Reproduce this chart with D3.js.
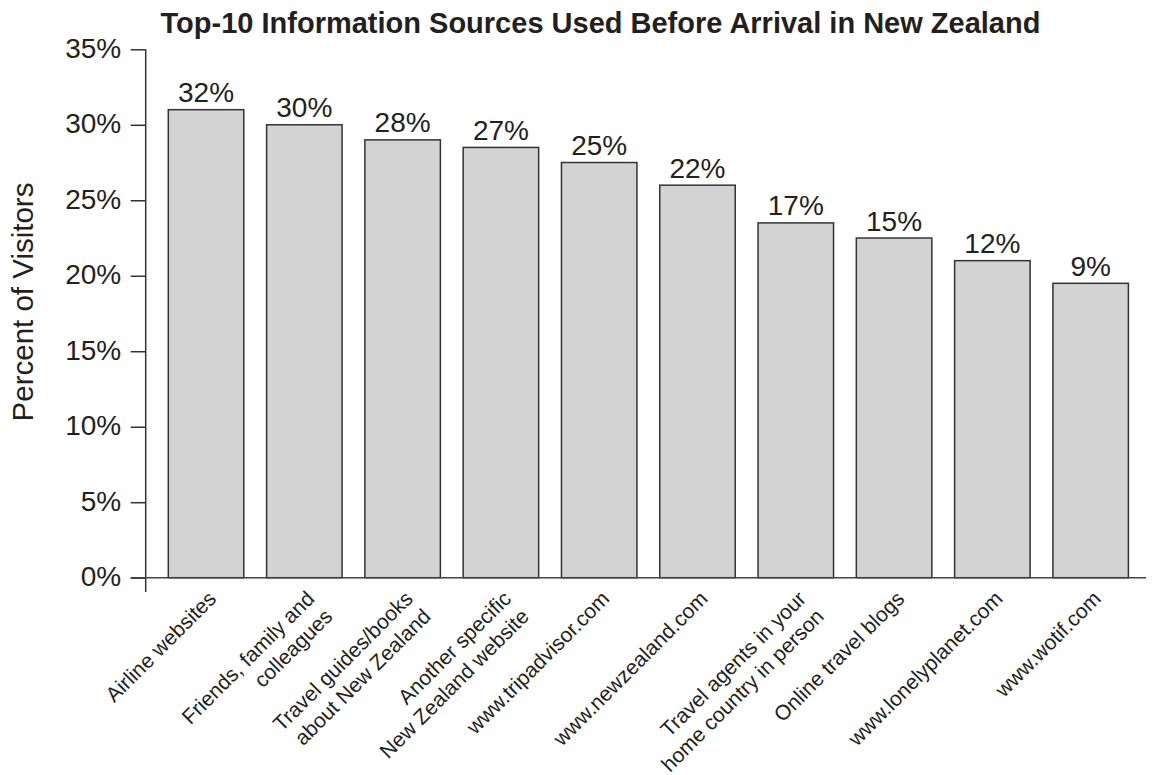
<!DOCTYPE html>
<html>
<head>
<meta charset="utf-8">
<script src="https://cdn.jsdelivr.net/npm/d3@7"></script>
<style>
  html, body { margin: 0; padding: 0; background: #ffffff; }
  svg { display: block; }
  text { font-family: "Liberation Sans", Arial, Helvetica, sans-serif; fill: #231f20; }
</style>
</head>
<body>
<svg id="chart" width="1156" height="775"></svg>
<script>
// ---- Data ----
const categories = [
  "Airline websites",
  "Friends, family and\ncolleagues",
  "Travel guides/books\nabout New Zealand",
  "Another specific\nNew Zealand website",
  "www.tripadvisor.com",
  "www.newzealand.com",
  "Travel agents in your\nhome country in person",
  "Online travel blogs",
  "www.lonelyplanet.com",
  "www.wotif.com"
];
// bar heights as drawn in the picture (percent)
const barValues = [31, 30, 29, 28.5, 27.5, 26, 23.5, 22.5, 21, 19.5];
// value labels printed above the bars
const valueLabels = ["32%", "30%", "28%", "27%", "25%", "22%", "17%", "15%", "12%", "9%"];
const yTicks = [0, 5, 10, 15, 20, 25, 30, 35];
const titleText = "Top-10 Information Sources Used Before Arrival in New Zealand";
const yAxisTitle = "Percent of Visitors";

// ---- Layout ----
const svg = d3.select("#chart");
const ink = "#231f20";
const lineCol = "#333333";

const x = d3.scaleBand()
  .domain(d3.range(categories.length))
  .range([156.9, 1139.8])
  .paddingInner(0.232)
  .paddingOuter(0.116);

const y = d3.scaleLinear()
  .domain([0, 35])
  .range([577.7, 49.3]);

// Title
svg.append("text")
  .attr("x", 600.5)
  .attr("y", 33.3)
  .attr("text-anchor", "middle")
  .style("font-size", "29px")
  .style("font-weight", "bold")
  .text(titleText);

// Y axis title
svg.append("text")
  .attr("transform", "translate(33,302) rotate(-90)")
  .attr("text-anchor", "middle")
  .style("font-size", "29.5px")
  .text(yAxisTitle);

// Bars
svg.append("g")
  .selectAll("rect")
  .data(barValues)
  .join("rect")
  .attr("x", (d, i) => x(i))
  .attr("y", d => y(d))
  .attr("width", x.bandwidth())
  .attr("height", d => y(0) - y(d))
  .attr("fill", "#d3d3d3")
  .attr("stroke", lineCol)
  .attr("stroke-width", 1.5);

// Value labels
svg.append("g")
  .selectAll("text")
  .data(barValues)
  .join("text")
  .attr("x", (d, i) => x(i) + x.bandwidth() / 2)
  .attr("y", d => y(d) - 7.5)
  .attr("text-anchor", "middle")
  .style("font-size", "28px")
  .text((d, i) => valueLabels[i]);

// Y axis
const yAxis = d3.axisLeft(y)
  .tickValues(yTicks)
  .tickSize(15)
  .tickPadding(9.5)
  .tickFormat(d => d + "%");

const gy = svg.append("g")
  .attr("transform", "translate(145.7,0)")
  .call(yAxis);
gy.select(".domain").remove();
gy.selectAll(".tick line").attr("stroke", lineCol).attr("stroke-width", 1.5);
gy.selectAll(".tick text")
  .attr("dy", "0.28em")
  .style("font-size", "28px")
  .style("font-family", "'Liberation Sans', Arial, Helvetica, sans-serif")
  .attr("fill", ink);

// vertical axis line (extends slightly below zero)
svg.append("line")
  .attr("x1", 145.7).attr("x2", 145.7)
  .attr("y1", y(35)).attr("y2", 592)
  .attr("stroke", lineCol)
  .attr("stroke-width", 1.5);

// horizontal zero line
svg.append("line")
  .attr("x1", 130.7).attr("x2", 1146)
  .attr("y1", y(0)).attr("y2", y(0))
  .attr("stroke", "#444")
  .attr("stroke-width", 1.6);

// X category labels (rotated 45 degrees, right-aligned, multi-line)
const xl = svg.append("g")
  .selectAll("text")
  .data(categories)
  .join("text")
  .attr("transform", (d, i) => `translate(${x(i) + x.bandwidth() / 2 + 11.5},600) rotate(-45)`)
  .attr("text-anchor", "end")
  .style("font-size", "21px");

xl.each(function(d) {
  const t = d3.select(this);
  d.split("\n").forEach((line, k) => {
    t.append("tspan")
      .attr("x", 0)
      .attr("dy", k === 0 ? 0 : "1.2em")
      .text(line);
  });
});
</script>
</body>
</html>
